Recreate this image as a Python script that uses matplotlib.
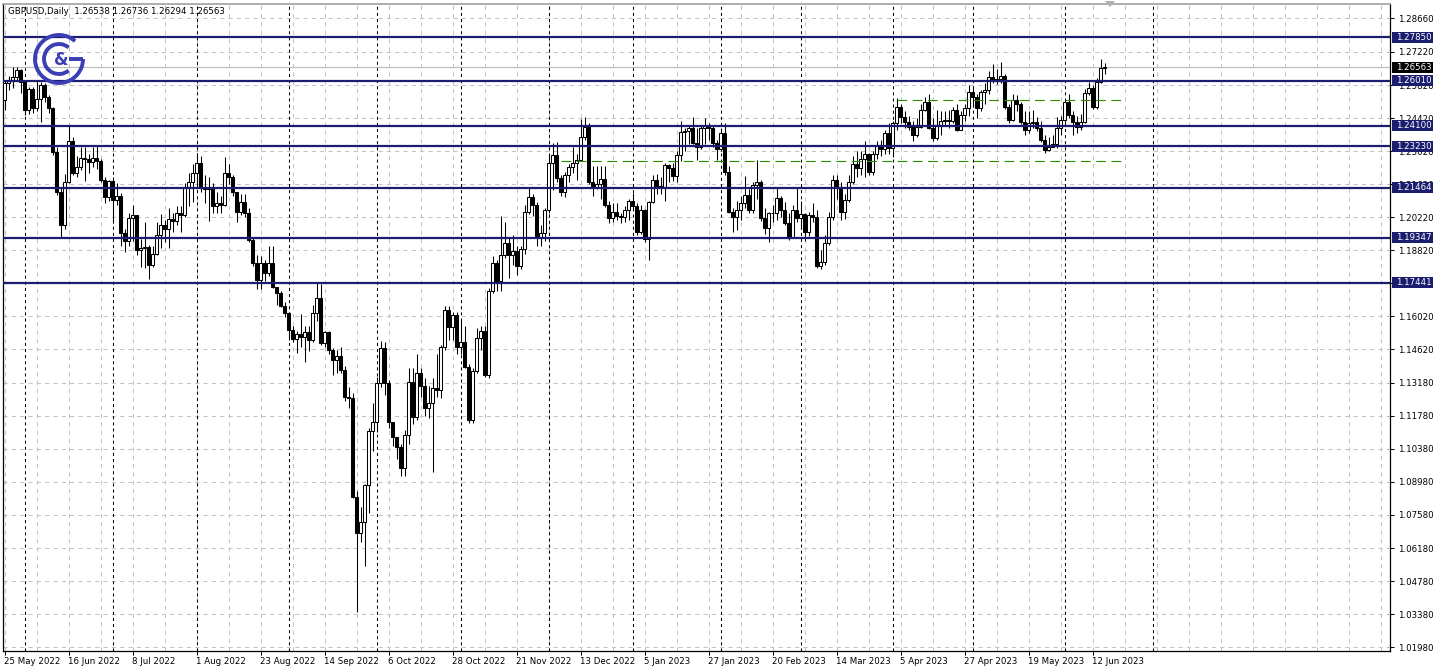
import numpy as np
import pandas as pd
import matplotlib
matplotlib.use("Agg")
import matplotlib.pyplot as plt
from matplotlib.patches import Arc, Rectangle, Polygon

plt.rcParams["font.family"] = "DejaVu Sans"
plt.rcParams["lines.scale_dashes"] = False

# ---- data (GBPUSD daily, 25 May 2022 - 15 Jun 2023) ----
symbol = "GBPUSD,Daily"
first_open = 1.2520
closes = [
    1.2590, 1.2603, 1.2616, 1.2646, 1.2595, 1.2476, 1.2565, 1.2484, 1.2523, 1.2582,
    1.2531, 1.2484, 1.2298, 1.2128, 1.1988, 1.2170, 1.2345, 1.2209, 1.2234, 1.2272,
    1.2268, 1.2255, 1.2272, 1.2260, 1.2179, 1.2107, 1.2175, 1.2094, 1.2110, 1.1955,
    1.1920, 1.2018, 1.2030, 1.1882, 1.1890, 1.1895, 1.1820, 1.1865, 1.1945, 1.1988,
    1.1970, 1.2015, 1.2005, 1.2040, 1.2030, 1.2150, 1.2170, 1.2209, 1.2250, 1.2149,
    1.2140, 1.2150, 1.2070, 1.2080, 1.2075, 1.2210, 1.2190, 1.2128, 1.2043, 1.2086,
    1.2040, 1.1925, 1.1827, 1.1755, 1.1827, 1.1785, 1.1827, 1.1725, 1.1700, 1.1645,
    1.1615, 1.1543, 1.1505, 1.1525, 1.1513, 1.1535, 1.1500, 1.1615, 1.1680, 1.1487,
    1.1535, 1.1458, 1.1415, 1.1433, 1.1373, 1.1259, 1.1255, 1.0834, 1.0682, 1.0728,
    1.0885, 1.1114, 1.1152, 1.1318, 1.1466, 1.1318, 1.1152, 1.1089, 1.1046, 1.0957,
    1.1097, 1.1322, 1.1174, 1.1360, 1.1305, 1.1212, 1.1232, 1.1297, 1.1290, 1.1470,
    1.1628, 1.1555, 1.1605, 1.1470, 1.1490, 1.1385, 1.1160, 1.1370, 1.1510, 1.1540,
    1.1350, 1.1707, 1.1827, 1.1750, 1.1860, 1.1912, 1.1861, 1.1878, 1.1814, 1.1885,
    1.2043, 1.2107, 1.2073, 1.1937, 1.1955, 1.2050, 1.2251, 1.2285, 1.2187, 1.2128,
    1.2200, 1.2234, 1.2251, 1.2264, 1.2361, 1.2404, 1.2170, 1.2149, 1.2160, 1.2183,
    1.2073, 1.2018, 1.2043, 1.2025, 1.2020, 1.2050, 1.2090, 1.2069, 1.1958, 1.2050,
    1.1930, 1.2085, 1.2179, 1.2155, 1.2150, 1.2243, 1.2230, 1.2195, 1.2285, 1.2383,
    1.2385, 1.2398, 1.2336, 1.2320, 1.2400, 1.2408, 1.2398, 1.2336, 1.2310, 1.2380,
    1.2213, 1.2043, 1.2022, 1.2052, 1.2082, 1.2115, 1.2052, 1.2158, 1.2170, 1.2018,
    1.1975, 1.2039, 1.2040, 1.2103, 1.2050, 1.1997, 1.1933, 1.2052, 1.2018, 1.2035,
    1.1960, 1.2030, 1.2020, 1.1815, 1.1830, 1.1912, 1.2022, 1.2179, 1.2150, 1.2043,
    1.2094, 1.2170, 1.2245, 1.2230, 1.2270, 1.2290, 1.2213, 1.2290, 1.2327, 1.2310,
    1.2378, 1.2315, 1.2421, 1.2489, 1.2446, 1.2425, 1.2404, 1.2370, 1.2404, 1.2476,
    1.2510, 1.2400, 1.2357, 1.2412, 1.2429, 1.2434, 1.2430, 1.2476, 1.2391, 1.2455,
    1.2484, 1.2552, 1.2530, 1.2484, 1.2552, 1.2561, 1.2616, 1.2603, 1.2608, 1.2620,
    1.2489, 1.2434, 1.2518, 1.2500, 1.2425, 1.2391, 1.2420, 1.2425, 1.2400, 1.2349,
    1.2306, 1.2320, 1.2330, 1.2400, 1.2434, 1.2510, 1.2455, 1.2425, 1.2404, 1.2425,
    1.2548, 1.2569, 1.2489, 1.2595, 1.26538, 1.26563,
]
highs = [
    1.2600, 1.2620, 1.2658, 1.2660, 1.2650, 1.2605, 1.2575, 1.2575, 1.2600, 1.2595,
    1.2590, 1.2540, 1.2490, 1.2320, 1.2150, 1.2205, 1.2406, 1.2360, 1.2280, 1.2320,
    1.2320, 1.2290, 1.2320, 1.2325, 1.2270, 1.2190, 1.2180, 1.2190, 1.2165, 1.2124,
    1.1970, 1.2040, 1.2075, 1.2030, 1.1930, 1.2000, 1.1905, 1.1900, 1.2000, 1.2035,
    1.2010, 1.2060, 1.2040, 1.2070, 1.2070, 1.2165, 1.2210, 1.2245, 1.2293, 1.2280,
    1.2200, 1.2190, 1.2165, 1.2130, 1.2110, 1.2275, 1.2245, 1.2200, 1.2130, 1.2120,
    1.2120, 1.2060, 1.1935, 1.1860, 1.1855, 1.1840, 1.1900, 1.1900, 1.1725, 1.1710,
    1.1660, 1.1620, 1.1560, 1.1540, 1.1610, 1.1560, 1.1560, 1.1650, 1.1740, 1.1738,
    1.1540, 1.1540, 1.1465, 1.1460, 1.1470, 1.1390, 1.1300, 1.1275, 1.0860, 1.0790,
    1.0890, 1.1125, 1.1235, 1.1345, 1.1495, 1.1490, 1.1330, 1.1150, 1.1090, 1.1060,
    1.1120, 1.1380, 1.1380, 1.1440, 1.1380, 1.1340, 1.1305, 1.1340, 1.1440, 1.1480,
    1.1645, 1.1645, 1.1620, 1.1620, 1.1590, 1.1560, 1.1400, 1.1380, 1.1550, 1.1560,
    1.1560, 1.1720, 1.1855, 1.1840, 1.2028, 1.2000, 1.1937, 1.1945, 1.1900, 1.1900,
    1.2073, 1.2150, 1.2120, 1.2085, 1.1990, 1.2060, 1.2285, 1.2336, 1.2340, 1.2200,
    1.2215, 1.2245, 1.2320, 1.2290, 1.2438, 1.2446, 1.2420, 1.2240, 1.2238, 1.2240,
    1.2240, 1.2090, 1.2080, 1.2080, 1.2040, 1.2070, 1.2100, 1.2125, 1.2080, 1.2075,
    1.2055, 1.2090, 1.2200, 1.2205, 1.2190, 1.2250, 1.2245, 1.2250, 1.2300, 1.2430,
    1.2400, 1.2410, 1.2448, 1.2400, 1.2410, 1.2440, 1.2420, 1.2410, 1.2350, 1.2400,
    1.2420, 1.2240, 1.2060, 1.2090, 1.2110, 1.2195, 1.2140, 1.2170, 1.2264, 1.2180,
    1.2060, 1.2045, 1.2075, 1.2145, 1.2110, 1.2085, 1.2040, 1.2075, 1.2145, 1.2090,
    1.2040, 1.2045, 1.2080, 1.2050, 1.1880, 1.1945, 1.2045, 1.2200, 1.2200, 1.2170,
    1.2120, 1.2200, 1.2280, 1.2300, 1.2300, 1.2345, 1.2295, 1.2300, 1.2345, 1.2350,
    1.2390, 1.2420, 1.2430, 1.2525, 1.2500, 1.2470, 1.2450, 1.2430, 1.2440, 1.2500,
    1.2531, 1.2545, 1.2440, 1.2475, 1.2470, 1.2470, 1.2475, 1.2490, 1.2500, 1.2470,
    1.2500, 1.2580, 1.2575, 1.2545, 1.2560, 1.2590, 1.2640, 1.2670, 1.2650, 1.2680,
    1.2630, 1.2500, 1.2545, 1.2540, 1.2510, 1.2470, 1.2470, 1.2475, 1.2445, 1.2430,
    1.2370, 1.2360, 1.2370, 1.2445, 1.2450, 1.2520, 1.2545, 1.2470, 1.2450, 1.2460,
    1.2565, 1.2595, 1.2580, 1.2610, 1.2692, 1.26736,
]
lows = [
    1.2475, 1.2560, 1.2570, 1.2600, 1.2548, 1.2455, 1.2460, 1.2465, 1.2470, 1.2425,
    1.2510, 1.2465, 1.2285, 1.2115, 1.1934, 1.1970, 1.2165, 1.2200, 1.2190, 1.2220,
    1.2175, 1.2210, 1.2235, 1.2225, 1.2170, 1.2080, 1.2090, 1.2000, 1.2075, 1.1900,
    1.1875, 1.1900, 1.1920, 1.1860, 1.1808, 1.1805, 1.1760, 1.1810, 1.1860, 1.1890,
    1.1915, 1.1890, 1.1960, 1.1990, 1.1960, 1.2020, 1.2070, 1.2085, 1.2160, 1.2130,
    1.2080, 1.2005, 1.2040, 1.2040, 1.2040, 1.2070, 1.2160, 1.2110, 1.2000, 1.2030,
    1.2020, 1.1915, 1.1815, 1.1718, 1.1715, 1.1750, 1.1770, 1.1720, 1.1650, 1.1640,
    1.1600, 1.1500, 1.1490, 1.1445, 1.1470, 1.1405, 1.1455, 1.1490, 1.1580, 1.1480,
    1.1470, 1.1440, 1.1350, 1.1360, 1.1360, 1.1240, 1.1210, 1.0830, 1.0347, 1.0645,
    1.0540, 1.0765, 1.1030, 1.1110, 1.1300, 1.1265, 1.1125, 1.1050, 1.0995, 1.0925,
    1.0925, 1.1060, 1.1145, 1.1160, 1.1260, 1.1180, 1.1170, 1.0940, 1.1260, 1.1255,
    1.1460, 1.1500, 1.1500, 1.1440, 1.1440, 1.1380, 1.1150, 1.1150, 1.1360, 1.1460,
    1.1345, 1.1340, 1.1700, 1.1710, 1.1710, 1.1850, 1.1765, 1.1820, 1.1776, 1.1800,
    1.1865, 1.2035, 1.2025, 1.1900, 1.1900, 1.1920, 1.2040, 1.2137, 1.2170, 1.2110,
    1.2105, 1.2170, 1.2210, 1.2180, 1.2260, 1.2350, 1.2160, 1.2110, 1.2140, 1.2100,
    1.2065, 1.1995, 1.2000, 1.2010, 1.1995, 1.2000, 1.2010, 1.2050, 1.1945, 1.1950,
    1.1915, 1.1840, 1.2080, 1.2120, 1.2120, 1.2090, 1.2170, 1.2175, 1.2170, 1.2260,
    1.2300, 1.2330, 1.2330, 1.2265, 1.2310, 1.2330, 1.2350, 1.2320, 1.2265, 1.2300,
    1.2200, 1.2040, 1.1960, 1.1965, 1.2010, 1.2060, 1.2040, 1.2040, 1.2100, 1.2005,
    1.1950, 1.1915, 1.2000, 1.2010, 1.2020, 1.1990, 1.1925, 1.1935, 1.2000, 1.1980,
    1.1920, 1.1940, 1.2000, 1.1805, 1.1802, 1.1820, 1.1905, 1.2010, 1.2100, 1.2010,
    1.2015, 1.2085, 1.2160, 1.2190, 1.2200, 1.2190, 1.2200, 1.2200, 1.2270, 1.2280,
    1.2290, 1.2290, 1.2275, 1.2390, 1.2420, 1.2400, 1.2390, 1.2345, 1.2360, 1.2400,
    1.2470, 1.2395, 1.2345, 1.2350, 1.2370, 1.2410, 1.2400, 1.2420, 1.2385, 1.2390,
    1.2430, 1.2450, 1.2490, 1.2440, 1.2470, 1.2500, 1.2545, 1.2590, 1.2585, 1.2590,
    1.2480, 1.2420, 1.2430, 1.2470, 1.2415, 1.2370, 1.2380, 1.2400, 1.2385, 1.2340,
    1.2295, 1.2300, 1.2320, 1.2315, 1.2370, 1.2410, 1.2440, 1.2370, 1.2380, 1.2390,
    1.2420, 1.2540, 1.2480, 1.2480, 1.2590, 1.26294,
]

date_labels = ["25 May 2022", "16 Jun 2022", "8 Jul 2022", "1 Aug 2022", "23 Aug 2022",
               "14 Sep 2022", "6 Oct 2022", "28 Oct 2022", "21 Nov 2022", "13 Dec 2022",
               "5 Jan 2023", "27 Jan 2023", "20 Feb 2023", "14 Mar 2023", "5 Apr 2023",
               "27 Apr 2023", "19 May 2023", "12 Jun 2023"]
price_ticks = [1.28660, 1.27220, 1.25820, 1.24420, 1.23020, 1.21620, 1.20220, 1.18820,
               1.17420, 1.16020, 1.14620, 1.13180, 1.11780, 1.10380, 1.08980, 1.07580,
               1.06180, 1.04780, 1.03380, 1.01980]
levels = [1.27850, 1.26010, 1.24100, 1.23230, 1.21464, 1.19347, 1.17441]
green_levels = [1.2518, 1.2260]
green_from = [223, 139]   # bar index where the dashed lines start
green_to = [280, 279]

# trading days shown (Boxing Day 2022 has no bar), plus the empty days to the right
dates = pd.bdate_range("2022-05-25", "2023-06-15").drop(pd.Timestamp("2022-12-26"))
future = pd.bdate_range("2023-06-16", "2023-07-31")

closes = np.array(closes)
opens = np.concatenate([[first_open], closes[:-1]])
highs = np.maximum(np.array(highs), np.maximum(opens, closes))
lows = np.minimum(np.array(lows), np.minimum(opens, closes))
n = len(closes)
x = np.arange(n)

W, H = 1438, 671
navy = "#1b1d6e"
fig = plt.figure(figsize=(W / 100, H / 100), dpi=100)
ax = fig.add_axes([3 / W, 20 / H, 1387 / W, 647 / H])
ymin, ymax = 1.01811, 1.29256
ax.set_xlim(-0.375, 346.375)
ax.set_ylim(ymin, ymax)

# grid
for p in price_ticks:
    ax.axhline(p, color="#c4c4c4", lw=0.75, dashes=(3, 3), zorder=0)
for k in range(0, 347, 8):
    ax.axvline(k, color="#c4c4c4", lw=0.75, dashes=(3, 3), zorder=0)

# month separators (data months + the next month start)
seps = [i for i in range(1, n) if dates[i].month != dates[i - 1].month]
nxt = [j for j in range(len(future)) if future[j].month != dates[-1].month][0]
seps.append(n + nxt)
for i in seps:
    ax.axvline(i, color="black", lw=0.75, dashes=(2.2, 2.2), zorder=1)

# last price line
ax.axhline(closes[-1], color="#c0c0c0", lw=0.9, zorder=1)

# candles
ax.vlines(x, lows, highs, color="black", lw=0.75, zorder=3)
up = closes >= opens
bottom = np.minimum(opens, closes)
height = np.abs(closes - opens)
ax.bar(x[up], height[up], bottom=bottom[up], width=0.55, facecolor="white",
       edgecolor="black", lw=0.75, zorder=4)
ax.bar(x[~up], height[~up], bottom=bottom[~up], width=0.55, facecolor="black",
       edgecolor="black", lw=0.75, zorder=4)

# support / resistance levels
for p in levels:
    ax.axhline(p, color=navy, lw=1.6, zorder=5)
ax.hlines(green_levels, green_from, green_to, colors="#2e8b00", lw=0.8,
          linestyles=(0, (7, 4)), zorder=5)

# axes styling
for s in ["left", "bottom", "right"]:
    ax.spines[s].set_color("black")
    ax.spines[s].set_linewidth(0.9)
ax.spines["top"].set_color("#a0a0a0")
ax.spines["top"].set_linewidth(1.2)

ax.yaxis.tick_right()
ax.set_yticks(price_ticks)
ax.set_yticklabels([f"{p:.5f}" for p in price_ticks])
ax.tick_params(axis="y", direction="out", length=3, width=0.75, pad=3,
               labelsize=6.2, colors="black")
ax.set_xticks(range(0, 16 * len(date_labels), 16))
ax.set_xticklabels(date_labels, ha="left")
ax.tick_params(axis="x", direction="out", length=3, width=0.75, pad=1.5,
               labelsize=6.2)

# price boxes on the right scale
px = (ymax - ymin) / 647
tr = ax.get_yaxis_transform()
for p, col in [(p, navy) for p in levels] + [(closes[-1], "black")]:
    ax.add_patch(Rectangle((1 + 2 / 1387, p - 5.5 * px), 41 / 1387, 11 * px,
                           transform=tr, facecolor=col, edgecolor="none",
                           clip_on=False, zorder=6))
    ax.text(1 + 6 / 1387, p, f"{p:.5f}", transform=tr, color="white",
            fontsize=6.2, va="center", ha="left", clip_on=False, zorder=7)

# header text
fig.text(8 / W, 1 - 12 / H,
         f"{symbol}  {opens[-1]:.5f} {highs[-1]:.5f} {lows[-1]:.5f} {closes[-1]:.5f}",
         fontsize=6.2, va="center", ha="left")

# logo and small shift marker (pixel overlay)
la = fig.add_axes([0, 0, 1, 1])
la.set_xlim(0, W)
la.set_ylim(0, H)
la.axis("off")
blue = "#3b3fb3"
cx, cy = 59, H - 59
la.add_patch(Arc((cx, cy), 48, 48, theta1=48, theta2=360, color=blue, lw=2.8))
la.plot([cx + 10, cx + 24], [cy, cy], color=blue, lw=2.8, solid_capstyle="butt")
la.add_patch(Arc((cx, cy), 30, 30, theta1=50, theta2=310, color=blue, lw=2.8))
la.text(cx + 2, cy - 1, "&", color=blue, fontsize=12, fontweight="bold",
        ha="center", va="center")
la.add_patch(Polygon([(1105, H - 1), (1115, H - 1), (1110, H - 7)],
                     closed=True, facecolor="#b0b0b0", edgecolor="none"))

fig.savefig("out.png", dpi=100)
